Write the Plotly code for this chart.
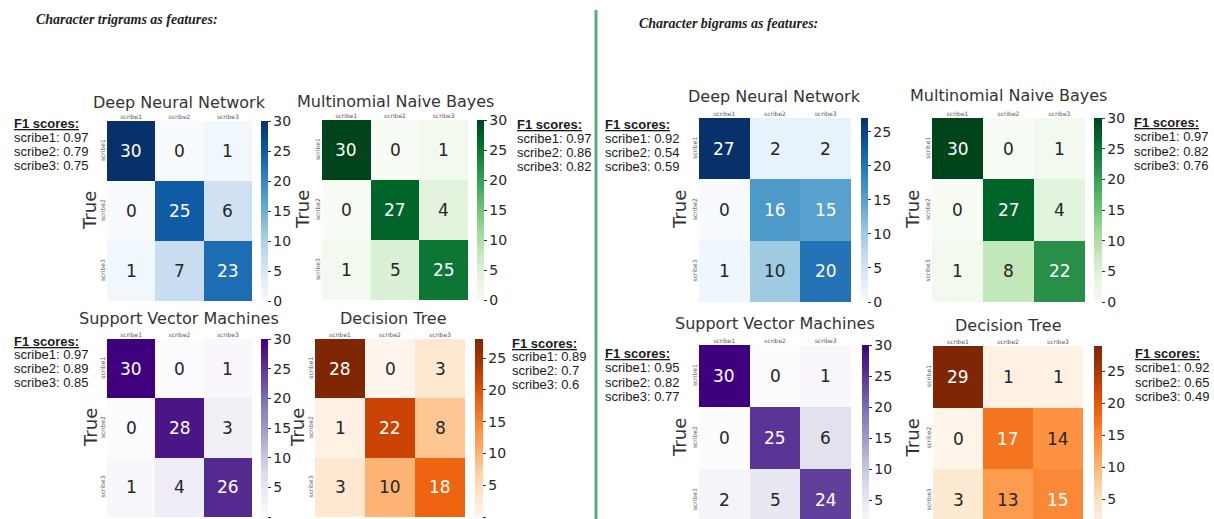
import plotly.graph_objects as go
from plotly.colors import sample_colorscale

# ---------------- data ----------------
models = ["Deep Neural Network", "Multinomial Naive Bayes",
          "Support Vector Machines", "Decision Tree"]
labels = ["scribe1", "scribe2", "scribe3"]
sections = ["Character trigrams as features:", "Character bigrams as features:"]

tri_dnn = [[30, 0, 1], [0, 25, 6], [1, 7, 23]]
tri_mnb = [[30, 0, 1], [0, 27, 4], [1, 5, 25]]
tri_svm = [[30, 0, 1], [0, 28, 3], [1, 4, 26]]
tri_dt = [[28, 0, 3], [1, 22, 8], [3, 10, 18]]
bi_dnn = [[27, 2, 2], [0, 16, 15], [1, 10, 20]]
bi_mnb = [[30, 0, 1], [0, 27, 4], [1, 8, 22]]
bi_svm = [[30, 0, 1], [0, 25, 6], [2, 5, 24]]
bi_dt = [[29, 1, 1], [0, 17, 14], [3, 13, 15]]

tri_dnn_f1 = [0.97, 0.79, 0.75]
tri_mnb_f1 = [0.97, 0.86, 0.82]
tri_svm_f1 = [0.97, 0.89, 0.85]
tri_dt_f1 = [0.89, 0.7, 0.6]
bi_dnn_f1 = [0.92, 0.54, 0.59]
bi_mnb_f1 = [0.97, 0.82, 0.76]
bi_svm_f1 = [0.95, 0.82, 0.77]
bi_dt_f1 = [0.92, 0.65, 0.49]

# ---------------- layout (pixels) ----------------
W, H = 1214, 519
scales = ["Blues", "Greens", "Purples", "Oranges"]

# (matrix, f1, model index, heat box x0,x1,y0,y1, cbar x, cbar w, title cx, cy, true x, f1 x, f1 y, f1 line step)
panels = [
    (tri_dnn, tri_dnn_f1, 0, 107, 252, 121, 301, 261, 7, 179, 102, 90, 12, 124, 13.8),
    (tri_mnb, tri_mnb_f1, 1, 322, 468, 120, 300, 477, 7, 396, 101, 302, 515, 125, 13.8),
    (tri_svm, tri_svm_f1, 2, 107, 252, 339, 517, 261, 7, 179, 318, 90, 12, 341, 13.8),
    (tri_dt, tri_dt_f1, 3, 315, 465, 339, 517, 475, 8, 393, 318, 297, 510, 343, 13.8),
    (bi_dnn, bi_dnn_f1, 0, 699, 851, 118, 302, 861, 7, 774, 96, 679, 603, 125, 13.8),
    (bi_mnb, bi_mnb_f1, 1, 932, 1085, 118, 302, 1094, 8, 1008, 95, 912, 1132, 123, 14.0),
    (bi_svm, bi_svm_f1, 2, 699, 851, 345, 531, 862, 7, 775, 323, 679, 603, 353, 14.5),
    (bi_dt, bi_dt_f1, 3, 933, 1083, 346, 531, 1094, 8, 1008, 325, 912, 1133, 353, 14.5),
]


def px(x):
    return x / W


def py(y):
    return 1 - y / H


def rel_lum(rgb):
    vals = []
    for c in rgb:
        c = c / 255.0
        vals.append(c / 12.92 if c <= 0.03928 else ((c + 0.055) / 1.055) ** 2.4)
    return 0.2126 * vals[0] + 0.7152 * vals[1] + 0.0722 * vals[2]


def parse_rgb(s):
    s = s[s.index("(") + 1:s.index(")")]
    return [float(v) for v in s.split(",")[:3]]


fig = go.Figure()
annotations = []
layout_axes = {}

for k, (mat, f1, mi, hx0, hx1, hy0, hy1, cbx, cbw, tcx, tcy, truex, f1x, f1y, f1dy) in enumerate(panels, start=1):
    zmax = max(max(r) for r in mat)
    zmin = min(min(r) for r in mat)
    scale = scales[mi]
    vis_bottom = min(hy1, H)
    rh = (hy1 - hy0) / 3.0
    yr_bottom = -0.5 + (vis_bottom - hy0) / rh
    xs = "x" if k == 1 else f"x{k}"
    ys = "y" if k == 1 else f"y{k}"
    fig.add_trace(go.Heatmap(
        z=mat, x=[0, 1, 2], y=[0, 1, 2],
        colorscale=scale, zmin=zmin, zmax=zmax,
        xaxis=xs, yaxis=ys, hoverinfo="skip",
        colorbar=dict(
            x=px(cbx), xanchor="left", y=py(hy0), yanchor="top",
            lenmode="pixels", len=hy1 - hy0,
            thicknessmode="pixels", thickness=cbw,
            outlinewidth=0, xpad=0, ypad=0,
            ticks="outside", ticklen=3, tickwidth=1, tickcolor="#333",
            tick0=0, dtick=5,
            tickfont=dict(family="DejaVu Sans", size=14, color="#262626"),
        ),
    ))
    xname = "xaxis" if k == 1 else f"xaxis{k}"
    yname = "yaxis" if k == 1 else f"yaxis{k}"
    layout_axes[xname] = dict(
        domain=[px(hx0), px(hx1)], anchor=ys, side="top",
        range=[-0.5, 2.5], tickvals=[0, 1, 2], ticktext=labels,
        tickfont=dict(family="DejaVu Sans", size=6, color="#555"),
        showgrid=False, zeroline=False, showline=False, ticks="",
        fixedrange=True,
    )
    layout_axes[yname] = dict(
        domain=[py(vis_bottom), py(hy0)], anchor=xs,
        range=[yr_bottom, -0.5], tickvals=[0, 1, 2], ticktext=labels,
        tickangle=-90,
        tickfont=dict(family="DejaVu Sans", size=6, color="#555"),
        showgrid=False, zeroline=False, showline=False, ticks="",
        fixedrange=True,
    )
    # cell annotations
    for i in range(3):
        for j in range(3):
            v = mat[i][j]
            col = sample_colorscale(scale, [(v - zmin) / (zmax - zmin)])[0]
            lum = rel_lum(parse_rgb(col))
            tc = "#262626" if lum > 0.408 else "white"
            annotations.append(dict(
                x=j, y=i, xref=xs, yref=ys, text=str(v), showarrow=False,
                font=dict(family="DejaVu Sans", size=17, color=tc),
            ))
    # title
    annotations.append(dict(
        x=px(tcx), y=py(tcy), xref="paper", yref="paper", text=models[mi],
        showarrow=False, xanchor="center", yanchor="middle",
        font=dict(family="DejaVu Sans", size=16, color="#333"),
    ))
    # True label
    annotations.append(dict(
        x=px(truex), y=py((hy0 + hy1) / 2), xref="paper", yref="paper",
        text="True", textangle=-90, showarrow=False,
        xanchor="center", yanchor="middle",
        font=dict(family="DejaVu Sans", size=18, color="#333"),
    ))
    # F1 scores block
    lines = ["<b><u>F1 scores:</u></b>"] + [f"{lab}: {s}" for lab, s in zip(labels, f1)]
    for li, t in enumerate(lines):
        annotations.append(dict(
            x=px(f1x), y=py(f1y + li * f1dy), xref="paper", yref="paper",
            text=t, showarrow=False, xanchor="left", yanchor="middle",
            font=dict(family="Liberation Sans, Arial", size=13, color="#1a1a1a"),
        ))

# section headers
for txt, (hx, hy) in zip(sections, [(34, 19), (637, 24)]):
    annotations.append(dict(
        x=px(hx), y=py(hy), xref="paper", yref="paper",
        text=f"<b><i>{txt}</i></b>", showarrow=False,
        xanchor="left", yanchor="middle",
        font=dict(family="Liberation Serif, Times New Roman", size=14, color="#222"),
    ))

fig.update_layout(
    width=W, height=H,
    margin=dict(l=0, r=0, t=0, b=0, pad=0, autoexpand=False),
    paper_bgcolor="white", plot_bgcolor="white",
    annotations=annotations,
    shapes=[dict(type="line", xref="paper", yref="paper",
                 x0=px(596), x1=px(596), y0=0, y1=py(10),
                 line=dict(color="#5aa97e", width=3))],
    showlegend=False,
    **layout_axes,
)

fig.write_html("out.html")
